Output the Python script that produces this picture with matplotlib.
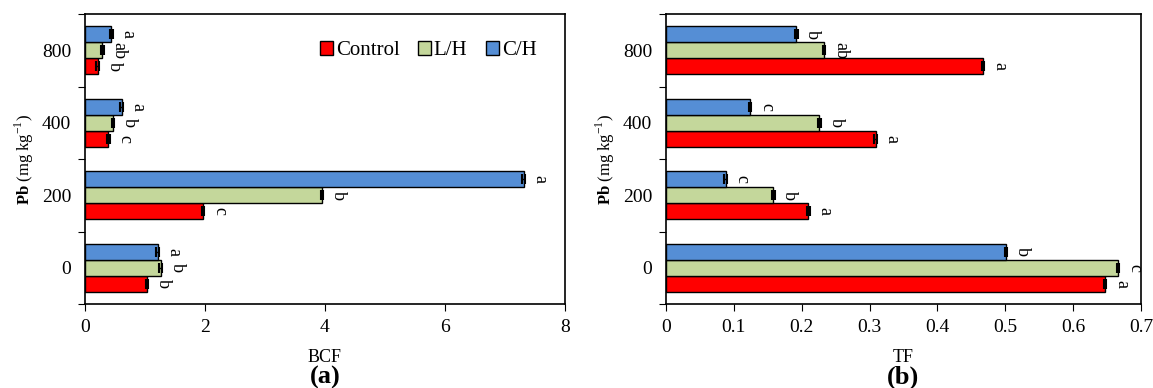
import numpy as np
from matplotlib import pyplot as plt

plt.rcParams["font.family"] = "Liberation Serif"
plt.rcParams["mathtext.fontset"] = "custom"
plt.rcParams["mathtext.rm"] = "Liberation Serif"
plt.rcParams["mathtext.bf"] = "Liberation Serif:bold"

# Dados
doses = ["0", "200", "400", "800"]
series = ["Control", "L/H", "C/H"]
cores = ["#ff0000", "#c4d79b", "#558ed5"]

bcf_control = [1.03, 1.97, 0.39, 0.21]
bcf_lh = [1.26, 3.95, 0.47, 0.29]
bcf_ch = [1.21, 7.31, 0.61, 0.44]
bcf_err = [0.02, 0.02, 0.02, 0.02]
bcf_letras_control = ["b", "c", "c", "b"]
bcf_letras_lh = ["b", "b", "b", "ab"]
bcf_letras_ch = ["a", "a", "a", "a"]

tf_control = [0.647, 0.210, 0.309, 0.467]
tf_lh = [0.666, 0.158, 0.226, 0.233]
tf_ch = [0.501, 0.088, 0.124, 0.192]
tf_err = [0.002, 0.002, 0.002, 0.002]
tf_letras_control = ["a", "a", "a", "a"]
tf_letras_lh = ["c", "b", "b", "ab"]
tf_letras_ch = ["b", "c", "c", "b"]

fig = plt.figure(figsize=(11.53, 3.88), dpi=100)
ax1 = fig.add_axes([0.0737, 0.2165, 0.4163, 0.7474])
ax2 = fig.add_axes([0.5776, 0.2165, 0.4120, 0.7474])

y = np.arange(len(doses))
h = 0.22


def painel(ax, valores, letras, err, xlim, xticks, xlabel, painel_label):
    offs = [-h, 0, h]
    for i in range(3):
        ax.barh(y + offs[i], valores[i], height=h, color=cores[i],
                edgecolor="black", linewidth=1, label=series[i], zorder=2)
        ax.errorbar(valores[i], y + offs[i], xerr=err, fmt="none",
                    ecolor="black", elinewidth=1, capsize=3.5, capthick=1.5, zorder=3)
        for v, yy, t in zip(valores[i], y + offs[i], letras[i]):
            ax.annotate(t, (v, yy), xytext=(12, 0), textcoords="offset points",
                        rotation=-90, ha="center", va="center", fontsize=13)
    ax.set_xlim(*xlim)
    ax.set_ylim(-0.5, len(doses) - 0.5)
    ax.set_xticks(xticks)
    ax.set_yticks(np.arange(-0.5, len(doses)), labels=[])
    ax.set_yticks(y, labels=doses, minor=True)
    ax.tick_params(axis="y", which="minor", length=0, labelsize=14, pad=10)
    ax.tick_params(axis="y", which="major", length=5, direction="out")
    ax.tick_params(axis="x", labelsize=14, length=5, direction="out", pad=6)
    ax.set_ylabel(r"$\mathbf{Pb}$ (mg kg$^{-1}$)", fontsize=12)
    ax.set_xlabel(xlabel, fontsize=13, labelpad=9)
    for s in ax.spines.values():
        s.set_linewidth(1.2)
    ax.text(0.5, -0.252, painel_label, transform=ax.transAxes, ha="center",
            va="center", fontsize=19, fontweight="bold")


painel(ax1, [bcf_control, bcf_lh, bcf_ch],
       [bcf_letras_control, bcf_letras_lh, bcf_letras_ch], bcf_err,
       (0, 8), [0, 2, 4, 6, 8], "BCF", "(a)")
painel(ax2, [tf_control, tf_lh, tf_ch],
       [tf_letras_control, tf_letras_lh, tf_letras_ch], tf_err,
       (0, 0.7), [0, 0.1, 0.2, 0.3, 0.4, 0.5, 0.6, 0.7], "TF", "(b)")
ax2.set_xticklabels(["0", "0.1", "0.2", "0.3", "0.4", "0.5", "0.6", "0.7"])

ax1.legend(loc="upper right", bbox_to_anchor=(0.98, 0.97), ncol=3, frameon=False,
           fontsize=15, handlelength=0.6, handleheight=0.6, handletextpad=0.15,
           columnspacing=0.9)

plt.savefig("out.png", dpi=100)
